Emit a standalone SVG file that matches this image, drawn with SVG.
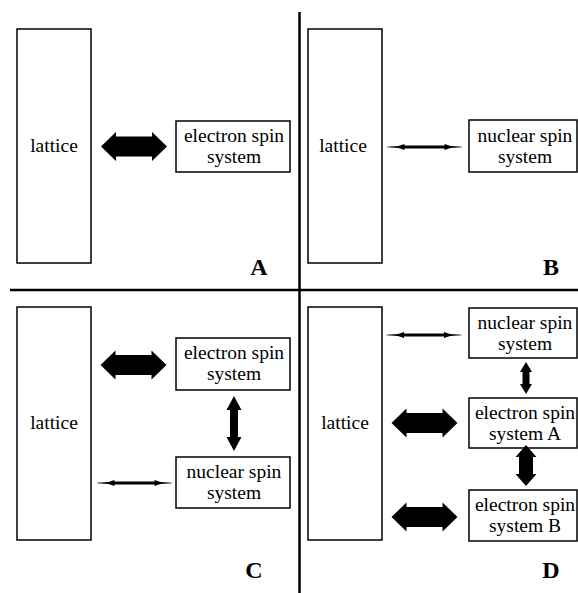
<svg xmlns="http://www.w3.org/2000/svg" xmlns:xlink="http://www.w3.org/1999/xlink" width="578" height="593" viewBox="0 0 578 593">
<style>
.box{fill:#fff;stroke:#000;stroke-width:1.5}
.t{font-family:"Liberation Serif","Times New Roman",serif;font-size:19.5px;fill:#000;text-anchor:middle}
.lbl{font-family:"Liberation Serif","Times New Roman",serif;font-size:24px;font-weight:bold;fill:#000;text-anchor:middle}
.div{stroke:#000;stroke-width:2.5;fill:none}
.ar{fill:#000}
</style>
<defs>
<polygon id="big" points="-33,0 -18,-14.5 -18,-10 18,-10 18,-14.5 33,0 18,14.5 18,10 -18,10 -18,14.5"/>
<polygon id="thin" points="-37.5,-0.3 -26,-1 -20,-3 -20,-1.5 20,-1.5 20,-3 26,-1 37.5,-0.3 37.5,0.3 26,1 20,3 20,1.5 -20,1.5 -20,3 -26,1 -37.5,0.3"/>
</defs>
<rect width="578" height="593" fill="#fff"/>
<g id="dividers">
<line class="div" x1="10" y1="290" x2="578" y2="290"/>
<line class="div" x1="299.5" y1="12" x2="299.5" y2="593"/>
</g>
<!-- Panel A -->
<g id="A-lattice"><rect class="box" x="17" y="29" width="74" height="234"/><text class="t" x="54" y="152">lattice</text></g>
<g id="A-electron"><rect class="box" x="176" y="121" width="114" height="51"/><text class="t" x="234" y="142">electron spin</text><text class="t" x="234" y="163">system</text></g>
<g id="A-label"><text class="lbl" x="259" y="275">A</text></g>
<!-- Panel B -->
<g id="B-lattice"><rect class="box" x="308" y="29" width="74" height="234"/><text class="t" x="343" y="152">lattice</text></g>
<g id="B-nuclear"><rect class="box" x="469" y="120" width="108" height="52"/><text class="t" x="525" y="142">nuclear spin</text><text class="t" x="525" y="163">system</text></g>
<g id="B-label"><text class="lbl" x="551" y="275">B</text></g>
<!-- Panel C -->
<g id="C-lattice"><rect class="box" x="17" y="307" width="74" height="233"/><text class="t" x="54" y="429">lattice</text></g>
<g id="C-electron"><rect class="box" x="176" y="338" width="114" height="52"/><text class="t" x="234" y="359">electron spin</text><text class="t" x="234" y="380">system</text></g>
<g id="C-nuclear"><rect class="box" x="176" y="457" width="114" height="51"/><text class="t" x="234" y="478">nuclear spin</text><text class="t" x="234" y="499">system</text></g>
<g id="C-label"><text class="lbl" x="254" y="578">C</text></g>
<!-- Panel D -->
<g id="D-lattice"><rect class="box" x="308" y="307" width="74" height="233"/><text class="t" x="345" y="429">lattice</text></g>
<g id="D-nuclear"><rect class="box" x="469" y="308" width="108" height="50"/><text class="t" x="525" y="329">nuclear spin</text><text class="t" x="525" y="350">system</text></g>
<g id="D-electronA"><rect class="box" x="469" y="398" width="108" height="50"/><text class="t" x="525" y="419">electron spin</text><text class="t" x="525" y="440">system A</text></g>
<g id="D-electronB"><rect class="box" x="469" y="490" width="108" height="51"/><text class="t" x="525" y="511">electron spin</text><text class="t" x="525" y="532">system B</text></g>
<g id="D-label"><text class="lbl" x="551" y="578">D</text></g>
<g id="connectors" class="ar">
<use xlink:href="#big" href="#big" transform="translate(134,146.5)"/>
<use xlink:href="#thin" href="#thin" transform="translate(424.5,147)"/>
<use xlink:href="#big" href="#big" transform="translate(133.5,365)"/>
<polygon points="234,396 241.5,410 238,410 238,437 241.5,437 234,451 226.5,437 230,437 230,410 226.5,410"/>
<use xlink:href="#thin" href="#thin" transform="translate(134.5,483)"/>
<use xlink:href="#thin" href="#thin" transform="translate(424,335)"/>
<polygon points="526,362 532,372 529.5,372 529.5,384 532,384 526,394 520,384 522.5,384 522.5,372 520,372"/>
<use xlink:href="#big" href="#big" transform="translate(424.5,423)"/>
<polygon points="526,445 536.5,457 533,457 533,474 536.5,474 526,486 515.5,474 519,474 519,457 515.5,457"/>
<use xlink:href="#big" href="#big" transform="translate(424.5,517)"/>
</g>
</svg>
